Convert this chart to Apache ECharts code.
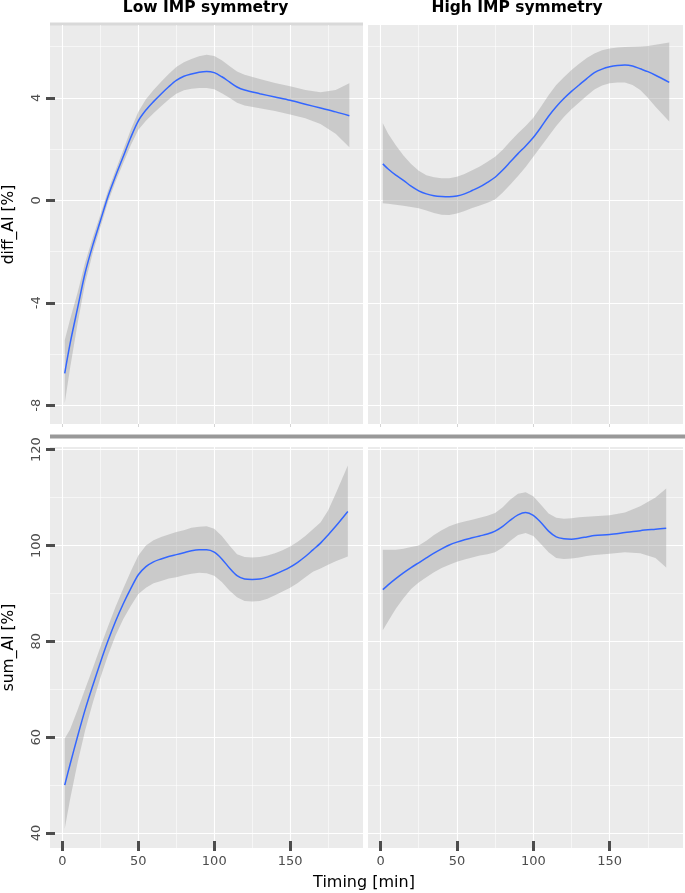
<!DOCTYPE html>
<html><head><meta charset="utf-8">
<script src="https://cdn.jsdelivr.net/npm/echarts@6/dist/echarts.min.js"></script>
<style>html,body{margin:0;padding:0;background:#fff}#c{width:685px;height:893px}</style>
</head><body><div id="c"></div>
<script>
// ---- tick labels / categories ----
const panelTitles = ['Low IMP symmetry', 'High IMP symmetry'];
const xTitle = 'Timing [min]';
const yTitles = ['diff_AI [%]', 'sum_AI [%]'];
const xTicks = [0, 50, 100, 150];
const xMinor = [25, 75, 125, 175];
const diffTicks = [-8, -4, 0, 4];
const diffMinor = [-6, -2, 2, 6];
const sumTicks = [40, 60, 80, 100, 120];
const sumMinor = [50, 70, 90, 110];

// ---- diff_AI, Low IMP symmetry ----
const tDiffLow = [1.5,5,10,15,20,25,30,35,40,45,50,55,60,65,70,75,80,85,90,95,100,105,110,115,120,130,140,150,160,170,180,189];
const fitDiffLow = [-6.75,-5.6,-4.2,-2.82,-1.75,-0.8,0.15,0.95,1.7,2.45,3.1,3.52,3.85,4.15,4.43,4.68,4.84,4.93,5.0,5.03,4.98,4.82,4.62,4.42,4.3,4.16,4.03,3.9,3.75,3.6,3.45,3.3];
const hiDiffLow = [-5.46,-4.65,-3.6,-2.42,-1.45,-0.55,0.37,1.17,1.95,2.75,3.45,3.94,4.3,4.63,4.93,5.2,5.39,5.51,5.62,5.68,5.63,5.46,5.24,5.03,4.9,4.73,4.58,4.45,4.3,4.22,4.3,4.57];
const loDiffLow = [-7.92,-6.55,-4.8,-3.22,-2.05,-1.05,-0.07,0.73,1.45,2.15,2.75,3.1,3.4,3.67,3.93,4.16,4.29,4.35,4.38,4.38,4.33,4.18,4.0,3.81,3.7,3.59,3.48,3.35,3.2,2.98,2.6,2.07];

// ---- diff_AI, High IMP symmetry ----
const tDiffHigh = [1.5,5,10,15,20,25,30,35,40,45,50,55,60,65,70,75,80,85,90,95,100,105,110,115,120,125,130,135,140,145,150,155,160,165,170,175,180,189];
const fitDiffHigh = [1.42,1.22,0.98,0.78,0.55,0.37,0.25,0.18,0.15,0.14,0.17,0.25,0.38,0.52,0.70,0.90,1.18,1.50,1.82,2.12,2.45,2.85,3.28,3.65,3.97,4.25,4.50,4.75,4.98,5.12,5.21,5.26,5.28,5.24,5.13,5.02,4.88,4.60];
const hiDiffHigh = [3.01,2.6,2.15,1.75,1.42,1.15,0.98,0.9,0.86,0.86,0.92,1.03,1.17,1.32,1.5,1.7,1.97,2.3,2.62,2.9,3.22,3.65,4.1,4.5,4.8,5.08,5.33,5.55,5.73,5.85,5.92,5.96,5.98,5.99,6.0,6.02,6.07,6.16];
const loDiffHigh = [-0.12,-0.14,-0.17,-0.21,-0.26,-0.31,-0.4,-0.5,-0.56,-0.57,-0.52,-0.42,-0.3,-0.2,-0.1,0.03,0.3,0.62,0.95,1.3,1.7,2.1,2.5,2.9,3.25,3.55,3.82,4.08,4.32,4.48,4.57,4.6,4.6,4.5,4.3,4.0,3.65,3.07];

// ---- sum_AI, Low IMP symmetry ----
const tSumLow = [1.5,5,10,15,20,25,30,35,40,45,50,55,60,65,70,75,80,85,90,95,100,105,110,115,120,125,130,135,140,145,150,155,160,165,170,175,180,188];
const fitSumLow = [50.0,54.3,60.2,65.8,70.8,75.6,80.1,84.2,87.8,91.0,93.9,95.6,96.6,97.2,97.7,98.1,98.5,98.9,99.1,99.1,98.6,97.2,95.3,93.7,93.0,92.9,93.0,93.4,94.0,94.7,95.5,96.5,97.7,99.1,100.5,102.2,104.0,107.1];
const hiSumLow = [59.7,61.6,65.7,70.1,74.4,78.8,83.1,87.2,91.0,94.6,97.9,100.0,101.1,101.8,102.3,102.8,103.2,103.7,103.9,104.0,103.5,102.0,100.0,98.2,97.6,97.5,97.6,97.9,98.4,99.0,99.8,100.8,102.0,103.4,104.8,107.3,110.8,116.7];
const loSumLow = [40.9,47.0,54.7,61.5,67.2,72.4,77.1,81.2,84.6,87.4,89.9,91.2,92.1,92.6,93.1,93.4,93.8,94.1,94.3,94.2,93.7,92.4,90.6,89.2,88.4,88.3,88.4,88.9,89.6,90.4,91.2,92.2,93.4,94.5,95.2,96.0,96.7,97.7];

// ---- sum_AI, High IMP symmetry ----
const tSumHigh = [1.5,5,10,15,20,25,30,35,40,45,50,55,60,65,70,75,80,85,90,95,100,105,110,115,120,125,130,135,140,150,160,170,180,187];
const fitSumHigh = [90.8,91.8,93.1,94.3,95.4,96.4,97.4,98.4,99.3,100.1,100.7,101.2,101.6,102.0,102.4,103.0,104.0,105.3,106.4,106.9,106.3,104.8,103.0,101.8,101.4,101.3,101.5,101.8,102.1,102.3,102.7,103.1,103.4,103.6];
const hiSumHigh = [99.1,99.1,99.1,99.3,99.7,100.0,101.0,102.2,103.2,104.0,104.6,105.0,105.4,105.8,106.2,106.8,108.0,109.6,110.8,111.1,110.3,108.5,106.7,105.8,105.6,105.7,105.9,106.0,106.1,106.3,106.9,108.2,110.0,111.9];
const loSumHigh = [82.3,84.2,86.8,89.0,90.9,92.3,93.4,94.4,95.3,96.0,96.6,97.1,97.5,97.9,98.2,98.6,99.6,101.0,102.2,102.6,102.0,100.3,98.6,97.4,97.2,97.3,97.5,97.8,98.0,98.3,98.6,98.4,97.4,95.4];

// ---- layout ----
const FONT = 'DejaVu Sans';
const xRange = [-8.2, 198];
const diffRange = [-8.73, 6.84];
const sumRange = [36.87, 120.56];
const grids = [
  {left: 50, top: 25, width: 313, height: 399},
  {left: 368, top: 25, width: 315, height: 399},
  {left: 50, top: 447, width: 313, height: 401},
  {left: 368, top: 447, width: 315, height: 401}
];

function gridLines(yMajor, yMinor) {
  const maj = {type: 'solid', color: '#ffffff', width: 1.1};
  const min = {type: 'solid', color: '#ffffff', width: 0.55};
  return [].concat(
    xMinor.map(v => ({xAxis: v, lineStyle: min})),
    yMinor.map(v => ({yAxis: v, lineStyle: min})),
    xTicks.map(v => ({xAxis: v, lineStyle: maj})),
    yMajor.map(v => ({yAxis: v, lineStyle: maj}))
  );
}

function panel(idx, t, fit, lo, hi, yMajor, yMinor) {
  return [
    {type: 'custom', xAxisIndex: idx, yAxisIndex: idx, silent: true, z: 2,
     data: t.map((x, i) => [x, lo[i], hi[i]]),
     encode: {x: 0, y: [1, 2]},
     renderItem: function (params, api) {
       if (params.dataIndex !== 0) return null;
       const upper = t.map((x, i) => api.coord([x, hi[i]]));
       const lower = t.map((x, i) => api.coord([x, lo[i]])).reverse();
       return {type: 'polygon', shape: {points: upper.concat(lower)},
               style: {fill: 'rgba(153,153,153,0.4)', stroke: null}};
     }},
    {type: 'line', xAxisIndex: idx, yAxisIndex: idx,
     data: t.map((x, i) => [x, fit[i]]), symbol: 'none', smooth: 0.3, silent: true,
     lineStyle: {color: '#3366FF', width: 1.5}, z: 3,
     markLine: {silent: true, symbol: 'none', z: 1, label: {show: false}, emphasis: {disabled: true},
                data: gridLines(yMajor, yMinor)}}
  ];
}

function xAxis(i) {
  const bottom = i >= 2;
  return {
    gridIndex: i, type: 'value', position: 'bottom', min: xRange[0], max: xRange[1], z: 6,
    splitLine: {show: false}, axisLine: {show: false, onZero: false},
    offset: bottom ? 3 : 0,
    axisTick: bottom
      ? {show: true, customValues: xTicks, inside: true, length: 10, lineStyle: {color: '#4d4d4d', width: 3}}
      : {show: true, customValues: xTicks, inside: false, length: 3, lineStyle: {color: '#d4d4d4', width: 1}},
    axisLabel: {show: bottom, customValues: xTicks, margin: 4, fontSize: 13, color: '#4d4d4d', fontFamily: FONT}
  };
}

function yAxis(i) {
  const top = i < 2;
  const left = i % 2 === 0;
  const range = top ? diffRange : sumRange;
  const ticks = top ? diffTicks : sumTicks;
  const ax = {gridIndex: i, type: 'value', position: 'left', min: range[0], max: range[1], splitLine: {show: false}, z: 6};
  if (!left) { ax.show = false; return ax; }
  return Object.assign(ax, {
    axisLine: {show: false, onZero: false}, offset: 4,
    axisTick: {show: true, customValues: ticks, inside: true, length: 9, lineStyle: {color: '#4d4d4d', width: 3}},
    axisLabel: {customValues: ticks, rotate: 90, margin: 3, fontSize: 13, color: '#4d4d4d', fontFamily: FONT},
    name: top ? yTitles[0] : yTitles[1], nameLocation: 'middle', nameRotate: 90, nameGap: 29,
    nameTextStyle: {fontSize: 15.5, color: '#000', fontFamily: FONT}
  });
}

const chart = echarts.init(document.getElementById('c'), null, {renderer: 'canvas'});
chart.setOption({
  animation: false,
  backgroundColor: '#ffffff',
  grid: grids.map(g => Object.assign({show: true, backgroundColor: '#ebebeb', borderWidth: 0, containLabel: false}, g)),
  xAxis: [0, 1, 2, 3].map(xAxis),
  yAxis: [0, 1, 2, 3].map(yAxis),
  series: [].concat(
    panel(0, tDiffLow, fitDiffLow, loDiffLow, hiDiffLow, diffTicks, diffMinor),
    panel(1, tDiffHigh, fitDiffHigh, loDiffHigh, hiDiffHigh, diffTicks, diffMinor),
    panel(2, tSumLow, fitSumLow, loSumLow, hiSumLow, sumTicks, sumMinor),
    panel(3, tSumHigh, fitSumHigh, loSumHigh, hiSumHigh, sumTicks, sumMinor)
  ),
  graphic: [
    {type: 'rect', shape: {x: 50, y: 22.5, width: 313, height: 3}, style: {fill: '#d9d9d9'}, silent: true},
    {type: 'rect', shape: {x: 50, y: 434.5, width: 635, height: 4}, style: {fill: '#999999'}, silent: true},
    {type: 'text', x: 205.5, y: 7.5, style: {text: panelTitles[0], fill: '#000', font: 'bold 15.5px "DejaVu Sans"', textAlign: 'center', textVerticalAlign: 'middle'}, silent: true},
    {type: 'text', x: 517, y: 7.5, style: {text: panelTitles[1], fill: '#000', font: 'bold 15.5px "DejaVu Sans"', textAlign: 'center', textVerticalAlign: 'middle'}, silent: true},
    {type: 'text', x: 364, y: 883, style: {text: xTitle, fill: '#000', font: '16px "DejaVu Sans"', textAlign: 'center', textVerticalAlign: 'middle'}, silent: true}
  ]
});
</script>
</body></html>
